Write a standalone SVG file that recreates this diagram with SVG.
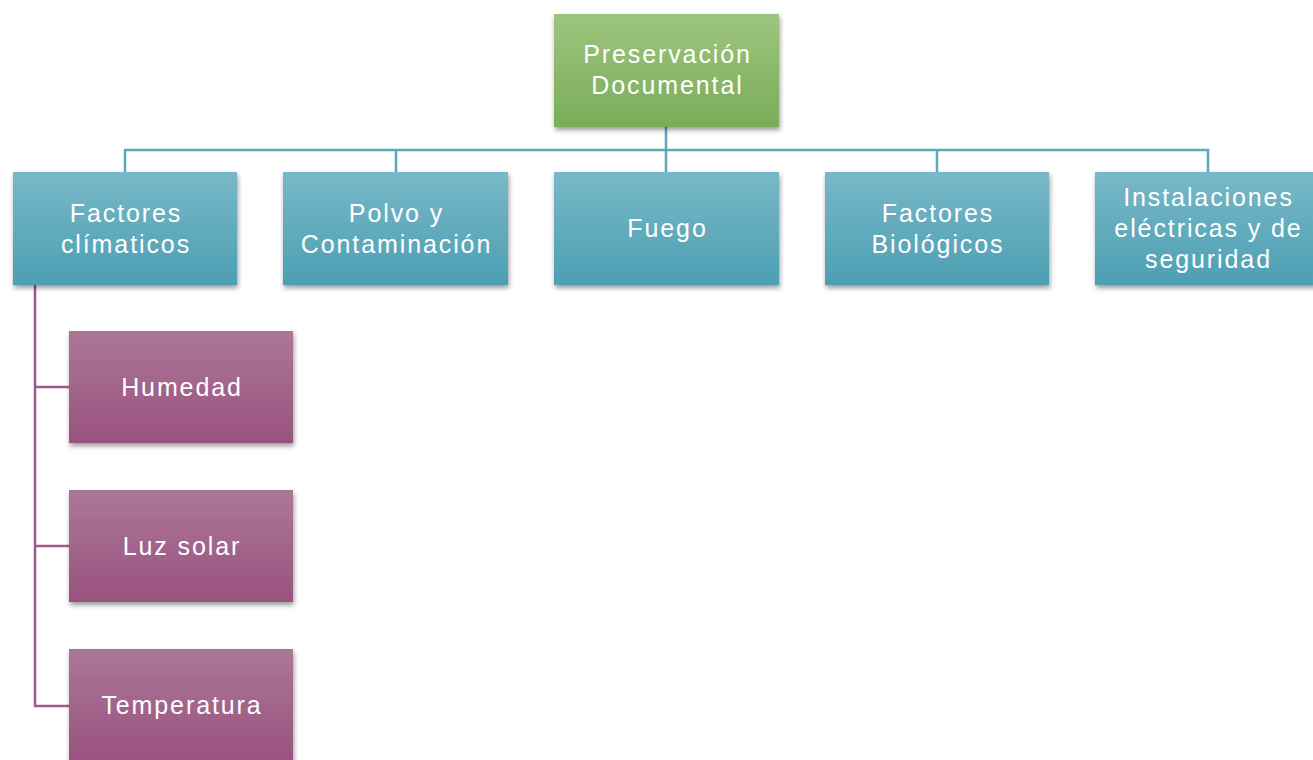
<svg xmlns="http://www.w3.org/2000/svg" width="1313" height="760" viewBox="0 0 1313 760">
<defs>
<linearGradient id="gG" x1="0" y1="0" x2="0" y2="1"><stop offset="0" stop-color="#9dc57e"/><stop offset="1" stop-color="#7aad59"/></linearGradient>
<linearGradient id="gB" x1="0" y1="0" x2="0" y2="1"><stop offset="0" stop-color="#78b8c7"/><stop offset="1" stop-color="#4d9fb4"/></linearGradient>
<linearGradient id="gP" x1="0" y1="0" x2="0" y2="1"><stop offset="0" stop-color="#ac7797"/><stop offset="1" stop-color="#99527f"/></linearGradient>
<filter id="sh" x="-10%" y="-10%" width="125%" height="130%"><feDropShadow dx="1" dy="3" stdDeviation="2.5" flood-color="#000" flood-opacity="0.4"/></filter>
</defs>
<style>
text{font-family:"Liberation Sans",Arial,sans-serif;font-size:25px;letter-spacing:1.9px;fill:#fff;text-anchor:middle}
.cb{stroke:#5ba9bb;stroke-width:2.5;fill:none}
.cp{stroke:#a0588a;stroke-width:2.5;fill:none}
</style>
<rect width="1313" height="760" fill="#fff"/>
<g id="connectors">
<path class="cb" d="M666 127V172M125 172V150H1208V172M396 150V172M937 150V172"/>
<path class="cp" d="M35 285V706H69M35 387H69M35 546H69"/>
</g>
<g id="n-root"><rect x="554" y="14" width="225" height="113" fill="url(#gG)" filter="url(#sh)"/><text x="667.5" y="63">Preservación</text><text x="667.5" y="94">Documental</text></g>
<g id="n-clima"><rect x="13" y="172" width="224" height="113" fill="url(#gB)" filter="url(#sh)"/><text x="126" y="222">Factores</text><text x="126" y="253">clímaticos</text></g>
<g id="n-polvo"><rect x="283" y="172" width="225" height="113" fill="url(#gB)" filter="url(#sh)"/><text x="396.5" y="222">Polvo y</text><text x="396.5" y="253">Contaminación</text></g>
<g id="n-fuego"><rect x="554" y="172" width="225" height="113" fill="url(#gB)" filter="url(#sh)"/><text x="667.5" y="237">Fuego</text></g>
<g id="n-bio"><rect x="825" y="172" width="224" height="113" fill="url(#gB)" filter="url(#sh)"/><text x="938" y="222">Factores</text><text x="938" y="253">Biológicos</text></g>
<g id="n-inst"><rect x="1095" y="172" width="225" height="113" fill="url(#gB)" filter="url(#sh)"/><text x="1208.5" y="206">Instalaciones</text><text x="1208.5" y="237">eléctricas y de</text><text x="1208.5" y="268">seguridad</text></g>
<g id="n-hum"><rect x="69" y="331" width="224" height="112" fill="url(#gP)" filter="url(#sh)"/><text x="182" y="396">Humedad</text></g>
<g id="n-luz"><rect x="69" y="490" width="224" height="112" fill="url(#gP)" filter="url(#sh)"/><text x="182" y="555">Luz solar</text></g>
<g id="n-temp"><rect x="69" y="649" width="224" height="112" fill="url(#gP)" filter="url(#sh)"/><text x="182" y="714">Temperatura</text></g>
</svg>
